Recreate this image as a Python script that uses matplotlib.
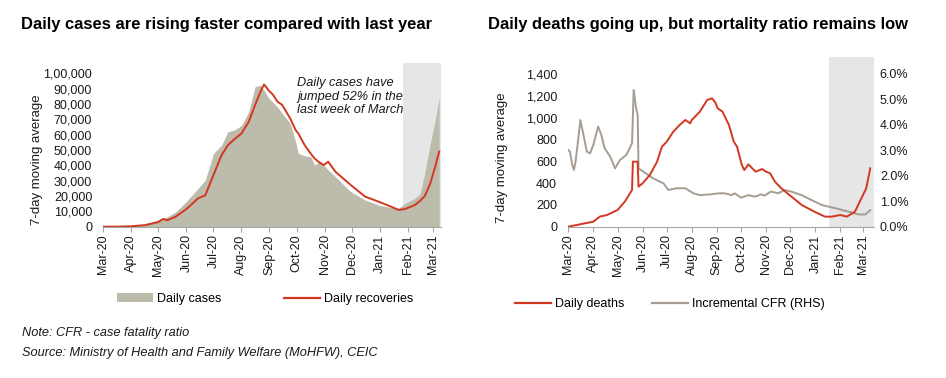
import matplotlib
matplotlib.use("Agg")
import matplotlib.pyplot as plt
import matplotlib.dates as mdates
from matplotlib.ticker import FuncFormatter, FixedLocator
from matplotlib.patches import Patch
from matplotlib.lines import Line2D
import pandas as pd

plt.rcParams['font.family'] = ['Liberation Sans', 'DejaVu Sans']

# ---------------- data: left chart (7-day moving averages) ----------------
case_dates = ["2020-03-01", "2020-03-16", "2020-04-01", "2020-04-16", "2020-05-01", "2020-05-06",
              "2020-05-11", "2020-05-20", "2020-06-01", "2020-06-14", "2020-06-22", "2020-07-01",
              "2020-07-10", "2020-07-17", "2020-07-24", "2020-08-01", "2020-08-09", "2020-08-16",
              "2020-08-22", "2020-08-26", "2020-08-31", "2020-09-05", "2020-09-10", "2020-09-15",
              "2020-09-24", "2020-09-30", "2020-10-03", "2020-10-10", "2020-10-17", "2020-10-21",
              "2020-10-25", "2020-10-31", "2020-11-05", "2020-11-13", "2020-11-30", "2020-12-16",
              "2020-12-31", "2021-01-14", "2021-01-22", "2021-01-29", "2021-02-09", "2021-02-15",
              "2021-02-20", "2021-02-26", "2021-03-03", "2021-03-08"]
daily_cases = [0, 50, 650, 1800, 4500, 5500,
               6500, 9500, 16500, 25000, 30400, 47800,
               53200, 62000, 63000, 66000, 75000, 91300,
               92400, 89000, 84000, 81000, 78000, 74000,
               67400, 55400, 47800, 46300, 45500, 40200,
               42000, 40200, 37000, 32600, 22800, 17400,
               14100, 12400, 12000, 15200, 18500, 21700,
               35000, 54000, 68000, 84000]
daily_recoveries = [0, 20, 300, 1000, 3000, 5000,
                    4200, 6500, 11500, 18500, 20500, 33700,
                    46700, 53200, 57000, 60800, 68400, 79300,
                    88000, 92800, 89000, 86000, 81500, 79500,
                    70600, 63000, 60800, 53200, 47500, 44500,
                    42500, 40200, 42400, 35900, 27200, 19600,
                    16300, 13000, 10900, 11500, 14100, 17000,
                    20000, 28000, 38000, 49000]
case_yticks = [0, 10000, 20000, 30000, 40000, 50000, 60000, 70000, 80000, 90000, 100000]
case_ytick_labels = ["0", "10,000", "20,000", "30,000", "40,000", "50,000", "60,000",
                     "70,000", "80,000", "90,000", "1,00,000"]

# ---------------- data: right chart ----------------
death_dates = ["2020-03-01", "2020-03-15", "2020-04-01", "2020-04-09", "2020-04-18", "2020-05-01",
               "2020-05-10", "2020-05-19", "2020-05-20", "2020-05-26", "2020-05-27", "2020-06-01",
               "2020-06-10", "2020-06-19", "2020-06-25", "2020-07-01", "2020-07-09", "2020-07-17",
               "2020-07-24", "2020-07-30", "2020-08-01", "2020-08-11", "2020-08-20", "2020-08-26",
               "2020-08-30", "2020-09-02", "2020-09-08", "2020-09-16", "2020-09-22", "2020-09-26",
               "2020-10-02", "2020-10-05", "2020-10-10", "2020-10-19", "2020-10-27", "2020-11-01",
               "2020-11-06", "2020-11-12", "2020-11-20", "2020-11-30", "2020-12-15", "2020-12-31",
               "2021-01-13", "2021-01-21", "2021-02-01", "2021-02-09", "2021-02-19", "2021-02-27",
               "2021-03-05", "2021-03-10"]
daily_deaths = [0, 21, 46, 92, 107, 153,
                229, 336, 596, 596, 367, 397,
                473, 596, 733, 779, 870, 932,
                978, 947, 978, 1054, 1161, 1176,
                1140, 1085, 1054, 932, 779, 733,
                565, 519, 571, 504, 528, 504,
                489, 412, 351, 290, 199, 137,
                92, 92, 107, 92, 137, 260,
                351, 535]

cfr_dates = ["2020-03-01", "2020-03-03", "2020-03-06", "2020-03-08", "2020-03-10", "2020-03-13",
             "2020-03-16", "2020-03-19", "2020-03-24", "2020-03-28", "2020-04-01", "2020-04-07",
             "2020-04-11", "2020-04-15", "2020-04-22", "2020-04-28", "2020-05-04", "2020-05-12",
             "2020-05-16", "2020-05-19", "2020-05-21", "2020-05-24", "2020-05-26", "2020-05-27",
             "2020-06-02", "2020-06-14", "2020-06-27", "2020-07-03", "2020-07-13", "2020-07-24",
             "2020-08-03", "2020-08-11", "2020-08-24", "2020-09-03", "2020-09-11", "2020-09-19",
             "2020-09-23", "2020-10-01", "2020-10-10", "2020-10-18", "2020-10-26", "2020-10-30",
             "2020-11-07", "2020-11-16", "2020-11-24", "2020-12-02", "2020-12-15", "2020-12-27",
             "2021-01-09", "2021-01-17", "2021-01-30", "2021-02-11", "2021-02-24", "2021-03-04",
             "2021-03-10"]
incremental_cfr = [3.01, 2.95, 2.42, 2.23, 2.55, 3.34,
                   4.19, 3.73, 2.95, 2.88, 3.21, 3.93,
                   3.60, 3.08, 2.75, 2.29, 2.62, 2.82,
                   3.08, 3.28, 5.37, 4.65, 4.39, 2.29,
                   2.16, 1.90, 1.70, 1.44, 1.51, 1.51,
                   1.31, 1.24, 1.27, 1.31, 1.31, 1.24,
                   1.31, 1.14, 1.24, 1.18, 1.27, 1.22,
                   1.38, 1.31, 1.44, 1.38, 1.24, 1.05,
                   0.85, 0.79, 0.69, 0.59, 0.48, 0.48,
                   0.65]
death_yticks = [0, 200, 400, 600, 800, 1000, 1200, 1400]
cfr_yticks = [0, 1, 2, 3, 4, 5, 6]

left_shade = ("2021-01-27", "2021-03-10")
right_shade = ("2021-01-18", "2021-03-15")

# ---------------- styling ----------------
RED = "#D2381F"
KHAKI = "#BDBBAB"
CFR_GREY = "#A59D93"
SHADE = "#E6E6E6"
AXIS = "#A6A6A6"
TXT = "#1A1A1A"

fig = plt.figure(figsize=(9.46, 3.78), dpi=100)

def style_axis(ax, xlim):
    for s in ["left", "right", "top"]:
        ax.spines[s].set_visible(False)
    ax.spines["bottom"].set_color(AXIS)
    ax.spines["bottom"].set_linewidth(0.8)
    ax.set_xlim(pd.Timestamp(xlim[0]), pd.Timestamp(xlim[1]))
    ax.xaxis.set_major_locator(mdates.MonthLocator())
    ax.xaxis.set_major_formatter(mdates.DateFormatter("%b-%y"))
    ax.tick_params(axis="x", direction="out", length=3.5, width=0.8, color=AXIS,
                   labelsize=9, labelcolor=TXT, rotation=90, pad=2)
    ax.tick_params(axis="y", length=0, labelsize=9, labelcolor=TXT, pad=8)
    ax.set_facecolor("none")

# ---- left chart ----
ax1 = fig.add_axes([0.1092, 0.4003, 0.3570, 0.4339])
cd = pd.to_datetime(case_dates)
ax1.axvspan(pd.Timestamp(left_shade[0]), pd.Timestamp(left_shade[1]), color=SHADE, zorder=0, lw=0)
ax1.fill_between(cd, daily_cases, 0, color=KHAKI, lw=0, zorder=1)
ax1.plot(cd, daily_recoveries, color=RED, lw=1.4, zorder=2)
ax1.set_ylim(0, 107000)
ax1.yaxis.set_major_locator(FixedLocator(case_yticks))
ax1.set_yticklabels(case_ytick_labels)
style_axis(ax1, ("2020-03-01", "2021-03-10"))
ax1.set_ylabel("7-day moving average", fontsize=9.5, color=TXT)
ax1.yaxis.set_label_coords(-0.178, 0.407)
fig.text(297 / 946, 1 - 77 / 378, "Daily cases have\njumped 52% in the\nlast week of March",
         fontsize=9.2, style="italic", color=TXT, va="top", ha="left", linespacing=1.17)

fig.legend(handles=[Patch(facecolor=KHAKI, edgecolor="none"),
                    Line2D([], [], color=RED, lw=1.6)],
           labels=["Daily cases", "Daily recoveries"],
           loc="center left", bbox_to_anchor=(0.1237, 0.209), ncol=2,
           frameon=False, fontsize=9, handlelength=2.88, handleheight=0.68,
           handletextpad=0.32, columnspacing=5.0, borderpad=0, borderaxespad=0)

# ---- right chart ----
ax2 = fig.add_axes([0.6007, 0.4003, 0.3235, 0.4489])
ax3 = ax2.twinx()
dd = pd.to_datetime(death_dates)
ax3.axvspan(pd.Timestamp(right_shade[0]), pd.Timestamp(right_shade[1]), color=SHADE, zorder=0, lw=0)
ax3.plot(pd.to_datetime(cfr_dates), incremental_cfr, color=CFR_GREY, lw=1.4, zorder=2)
ax3.set_ylim(0, 6 * 1555 / 1400)
ax3.yaxis.set_major_locator(FixedLocator(cfr_yticks))
ax3.yaxis.set_major_formatter(FuncFormatter(lambda v, p: f"{v:.1f}%"))
for s in ["left", "right", "top", "bottom"]:
    ax3.spines[s].set_visible(False)
ax3.tick_params(axis="y", length=0, labelsize=9, labelcolor=TXT, pad=4)

ax2.plot(dd, daily_deaths, color=RED, lw=1.4, zorder=3)
ax2.set_ylim(0, 1555)
ax2.yaxis.set_major_locator(FixedLocator(death_yticks))
ax2.yaxis.set_major_formatter(FuncFormatter(lambda v, p: f"{int(v):,}"))
style_axis(ax2, ("2020-03-01", "2021-03-15"))
ax3.set_xlim(pd.Timestamp("2020-03-01"), pd.Timestamp("2021-03-15"))
ax2.set_ylabel("7-day moving average", fontsize=9.5, color=TXT)
ax2.yaxis.set_label_coords(-0.196, 0.408)
ax2.set_zorder(ax3.get_zorder() + 1)
ax2.patch.set_visible(False)

fig.legend(handles=[Line2D([], [], color=RED, lw=1.6),
                    Line2D([], [], color=CFR_GREY, lw=1.6)],
           labels=["Daily deaths", "Incremental CFR (RHS)"],
           loc="center left", bbox_to_anchor=(0.5444, 0.195), ncol=2,
           frameon=False, fontsize=9, handlelength=2.88,
           handletextpad=0.32, columnspacing=2.2, borderpad=0, borderaxespad=0)

# ---- titles and notes ----
fig.text(21 / 946, 1 - 25 / 378, "Daily cases are rising faster compared with last year",
         fontsize=11.85, fontweight="bold", family=["Liberation Sans Narrow", "Liberation Sans"],
         va="center", ha="left", color="black")
fig.text(488 / 946, 1 - 25 / 378, "Daily deaths going up, but mortality ratio remains low",
         fontsize=11.85, fontweight="bold", family=["Liberation Sans Narrow", "Liberation Sans"],
         va="center", ha="left", color="black")
fig.text(22 / 946, 1 - 333 / 378, "Note: CFR - case fatality ratio", fontsize=9.2,
         style="italic", va="center", ha="left", color=TXT)
fig.text(22 / 946, 1 - 353 / 378, "Source: Ministry of Health and Family Welfare (MoHFW), CEIC",
         fontsize=9.2, style="italic", va="center", ha="left", color=TXT)

fig.savefig("out.png", dpi=100, facecolor="white")
